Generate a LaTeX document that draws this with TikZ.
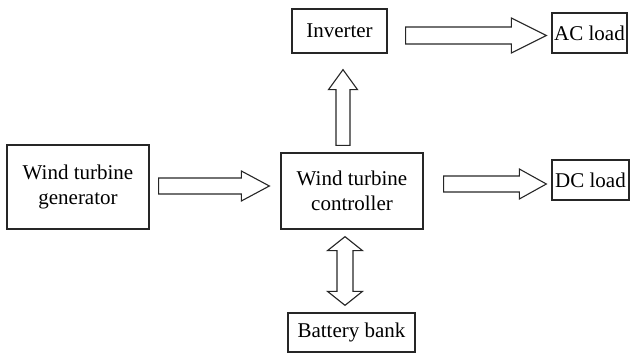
\documentclass[tikz,border=0pt]{standalone}
\usepackage{fontspec}
\setmainfont{Liberation Serif}
\usetikzlibrary{calc}
\definecolor{Ink}{HTML}{262626}

\tikzset{
  shaft width/.store in=\shaftw, head width/.store in=\headw, head length/.store in=\headl,
  shaft width=4pt, head width=7.5pt, head length=14pt
}

\begin{document}
\begin{tikzpicture}[
  x=0.5pt,y=-0.5pt,
  font=\fontsize{10.5}{12.5}\selectfont,
  unit/.style={draw=Ink,line width=0.65pt,align=center,inner sep=0pt},
  blockarrow/.style={draw=Ink,line width=0.55pt,line join=miter,
    to path={
      ($(\tikztotarget)!\headl!(\tikztostart)$) coordinate (ba)
      ($(\tikztostart)!\shaftw!90:(\tikztotarget)$)
      -- ($(ba)!\shaftw!90:(\tikztotarget)$)
      -- ($(ba)!\headw!90:(\tikztotarget)$)
      -- (\tikztotarget)
      -- ($(ba)!\headw!-90:(\tikztotarget)$)
      -- ($(ba)!\shaftw!-90:(\tikztotarget)$)
      -- ($(\tikztostart)!\shaftw!-90:(\tikztotarget)$)
      -- cycle}},
  blockdarrow/.style={draw=Ink,line width=0.55pt,line join=miter,
    to path={
      ($(\tikztotarget)!\headl!(\tikztostart)$) coordinate (ba)
      ($(\tikztostart)!\headl!(\tikztotarget)$) coordinate (bb)
      (\tikztostart)
      -- ($(bb)!\headw!90:(\tikztotarget)$)
      -- ($(bb)!\shaftw!90:(\tikztotarget)$)
      -- ($(ba)!\shaftw!90:(\tikztotarget)$)
      -- ($(ba)!\headw!90:(\tikztotarget)$)
      -- (\tikztotarget)
      -- ($(ba)!\headw!-90:(\tikztotarget)$)
      -- ($(ba)!\shaftw!-90:(\tikztotarget)$)
      -- ($(bb)!\shaftw!-90:(\tikztotarget)$)
      -- ($(bb)!\headw!-90:(\tikztotarget)$)
      -- cycle}}
]
  \useasboundingbox (0,0) rectangle (639,353);
  % boxes
  \node[unit,minimum width=71pt,minimum height=42pt] (gen) at (78,187) {Wind turbine\\generator};
  \node[unit,minimum width=71pt,minimum height=38pt] (ctrl) at (352,191) {Wind turbine\\controller};
  \node[unit,minimum width=47.5pt,minimum height=22pt] (inv) at (339.5,31) {Inverter};
  \node[unit,minimum width=37.5pt,minimum height=20pt] (ac) at (589.5,33) {AC load};
  \node[unit,minimum width=38.5pt,minimum height=20pt] (dc) at (590.5,180) {DC load};
  \node[unit,minimum width=63.5pt,minimum height=19.5pt] (bat) at (351.5,332.5) {Battery bank};
  % block arrows
  \draw[blockarrow] ([xshift=4.5pt,yshift=0.5pt]gen.east) to ([xshift=-5.5pt,yshift=0.5pt]gen.east -| ctrl.west);
  \draw[blockarrow,head length=13.5pt] ([xshift=10pt,yshift=-2pt]ctrl.east |- dc.west) to ([xshift=-2.5pt,yshift=-2pt]dc.west);
  \draw[blockarrow,shaft width=4.25pt,head width=8.75pt,head length=17.5pt] ([xshift=9pt,yshift=-1.25pt]inv.east |- ac.west) to ([xshift=-2.5pt,yshift=-1.25pt]ac.west);
  \draw[blockarrow,shaft width=3.5pt,head width=7.25pt,head length=10pt] ([xshift=-4.5pt,yshift=3.5pt]ctrl.north) to ([xshift=-4.5pt,yshift=-8pt]ctrl.north |- inv.south);
  \draw[blockdarrow,head width=8.75pt,head length=7pt] ([xshift=-3.5pt,yshift=-3.5pt]ctrl.south) to ([xshift=-3.5pt,yshift=3.5pt]ctrl.south |- bat.north);
\end{tikzpicture}
\end{document}
